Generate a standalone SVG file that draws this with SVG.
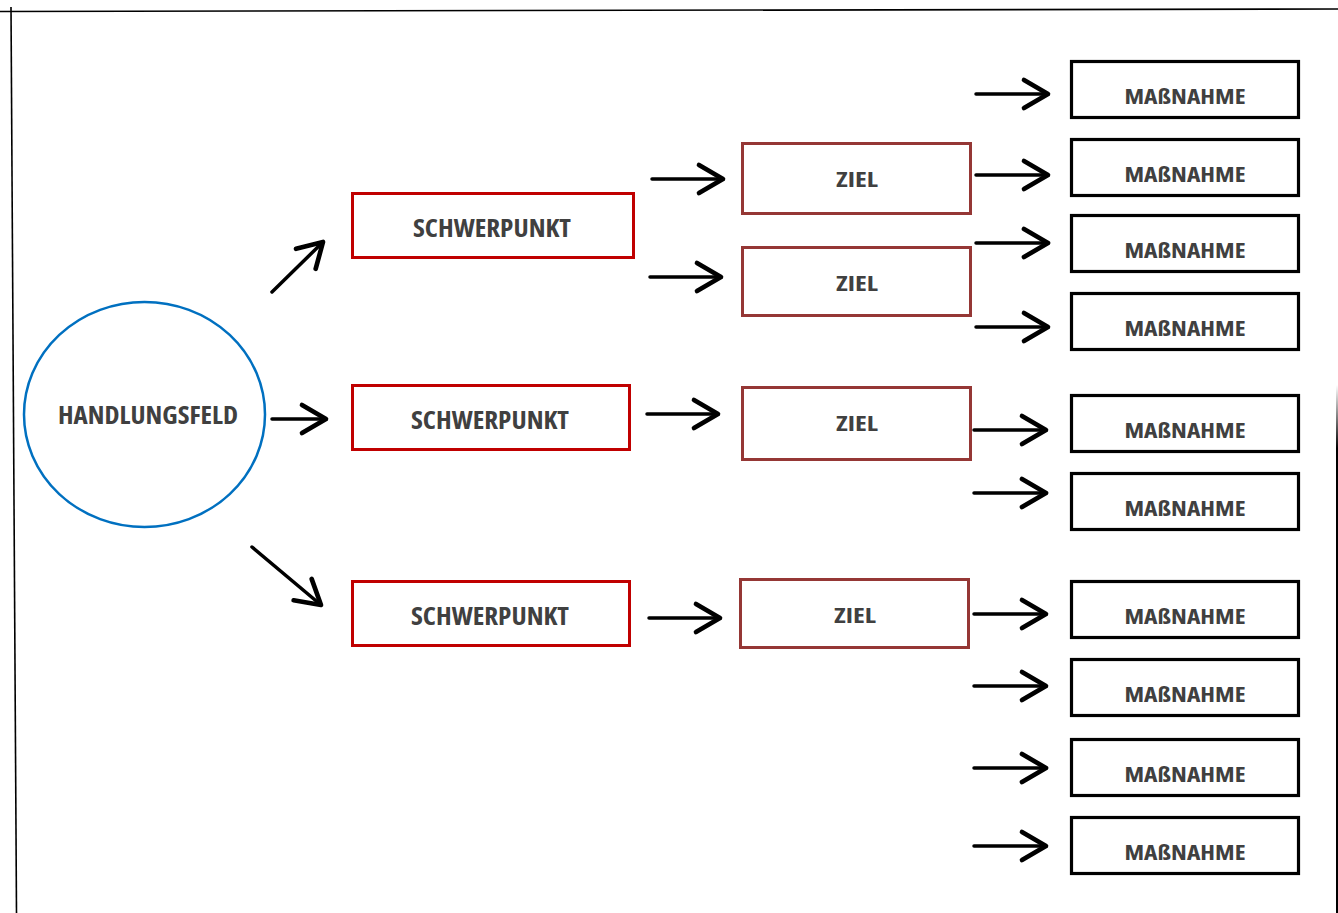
<svg xmlns="http://www.w3.org/2000/svg" width="1338" height="913" viewBox="0 0 1338 913">
<style>
.t{font-family:"Open Sans","Liberation Sans",sans-serif;font-weight:700;font-stretch:condensed;fill:#404040;text-anchor:middle}
.sp{fill:#fff;stroke:#c00000;stroke-width:3}
.zi{fill:#fff;stroke:#953735;stroke-width:3}
.ma{fill:#fff;stroke:#000;stroke-width:3.2}
.c{stroke:#000;stroke-width:3.5;fill:none;stroke-linecap:round;marker-end:url(#ah)}
.f{stroke:#000;stroke-width:1.6;fill:none}
</style>
<defs>
<marker id="ah" markerUnits="userSpaceOnUse" markerWidth="40" markerHeight="40" viewBox="-25 -15 30 30" refX="0" refY="0" orient="auto">
<path d="M-18,-10.5 L0,0 L-18,10.5" fill="none" stroke="#000" stroke-width="3.5" stroke-linecap="round" stroke-linejoin="round"/>
</marker>
<linearGradient id="rg" x1="0" y1="0" x2="0" y2="1">
<stop offset="0" stop-color="#fff"/>
<stop offset="0.12" stop-color="#000"/>
<stop offset="1" stop-color="#000"/>
</linearGradient>
</defs>
<rect width="1338" height="913" fill="#fff"/>
<g id="frame">
<line class="f" x1="0" y1="11.5" x2="1338" y2="9"/>
<line class="f" x1="11" y1="7" x2="16.5" y2="913"/>
<rect x="1336" y="385" width="2" height="528" fill="url(#rg)"/>
</g>
<g id="connectors">
<line class="c" x1="272" y1="292" x2="323" y2="242"/>
<line class="c" x1="272" y1="419" x2="326" y2="419"/>
<line class="c" x1="252" y1="547" x2="321" y2="605"/>
<line class="c" x1="652" y1="179" x2="723" y2="179"/>
<line class="c" x1="650" y1="277" x2="721" y2="277"/>
<line class="c" x1="647" y1="414" x2="718" y2="414"/>
<line class="c" x1="649" y1="618" x2="720" y2="618"/>
<line class="c" x1="976" y1="94" x2="1048" y2="94"/>
<line class="c" x1="976" y1="175" x2="1048" y2="175"/>
<line class="c" x1="976" y1="243" x2="1048" y2="243"/>
<line class="c" x1="976" y1="327" x2="1048" y2="327"/>
<line class="c" x1="974" y1="430" x2="1046" y2="430"/>
<line class="c" x1="974" y1="493" x2="1046" y2="493"/>
<line class="c" x1="974" y1="614" x2="1046" y2="614"/>
<line class="c" x1="974" y1="686" x2="1046" y2="686"/>
<line class="c" x1="974" y1="768" x2="1046" y2="768"/>
<line class="c" x1="974" y1="846" x2="1046" y2="846"/>
</g>
<g id="handlungsfeld">
<ellipse cx="144.5" cy="414.5" rx="120.5" ry="112.5" fill="#fff" stroke="#0070c0" stroke-width="2.5"/>
<text class="t" x="148" y="424" font-size="25" textLength="180" lengthAdjust="spacingAndGlyphs">HANDLUNGSFELD</text>
</g>
<g id="schwerpunkt1">
<rect class="sp" x="352.5" y="193.5" width="281" height="64"/>
<text class="t" x="492" y="237" font-size="25" textLength="158" lengthAdjust="spacingAndGlyphs">SCHWERPUNKT</text>
</g>
<g id="schwerpunkt2">
<rect class="sp" x="352.5" y="385.5" width="277" height="64"/>
<text class="t" x="490" y="429" font-size="25" textLength="158" lengthAdjust="spacingAndGlyphs">SCHWERPUNKT</text>
</g>
<g id="schwerpunkt3">
<rect class="sp" x="352.5" y="581.5" width="277" height="64"/>
<text class="t" x="490" y="625" font-size="25" textLength="158" lengthAdjust="spacingAndGlyphs">SCHWERPUNKT</text>
</g>
<g id="ziel1">
<rect class="zi" x="742.5" y="143.5" width="228" height="70"/>
<text class="t" x="857" y="187" font-size="22" textLength="42" lengthAdjust="spacingAndGlyphs">ZIEL</text>
</g>
<g id="ziel2">
<rect class="zi" x="742.5" y="247.5" width="228" height="68"/>
<text class="t" x="857" y="291" font-size="22" textLength="42" lengthAdjust="spacingAndGlyphs">ZIEL</text>
</g>
<g id="ziel3">
<rect class="zi" x="742.5" y="387.5" width="228" height="72"/>
<text class="t" x="857" y="431" font-size="22" textLength="42" lengthAdjust="spacingAndGlyphs">ZIEL</text>
</g>
<g id="ziel4">
<rect class="zi" x="740.5" y="579.5" width="228" height="68"/>
<text class="t" x="855" y="623" font-size="22" textLength="42" lengthAdjust="spacingAndGlyphs">ZIEL</text>
</g>
<g id="massnahme1"><rect class="ma" x="1071.5" y="61.5" width="227" height="56"/><text class="t" x="1185" y="104" font-size="21" textLength="121" lengthAdjust="spacingAndGlyphs">MAßNAHME</text></g>
<g id="massnahme2"><rect class="ma" x="1071.5" y="139.5" width="227" height="56"/><text class="t" x="1185" y="182" font-size="21" textLength="121" lengthAdjust="spacingAndGlyphs">MAßNAHME</text></g>
<g id="massnahme3"><rect class="ma" x="1071.5" y="215.5" width="227" height="56"/><text class="t" x="1185" y="258" font-size="21" textLength="121" lengthAdjust="spacingAndGlyphs">MAßNAHME</text></g>
<g id="massnahme4"><rect class="ma" x="1071.5" y="293.5" width="227" height="56"/><text class="t" x="1185" y="336" font-size="21" textLength="121" lengthAdjust="spacingAndGlyphs">MAßNAHME</text></g>
<g id="massnahme5"><rect class="ma" x="1071.5" y="395.5" width="227" height="56"/><text class="t" x="1185" y="438" font-size="21" textLength="121" lengthAdjust="spacingAndGlyphs">MAßNAHME</text></g>
<g id="massnahme6"><rect class="ma" x="1071.5" y="473.5" width="227" height="56"/><text class="t" x="1185" y="516" font-size="21" textLength="121" lengthAdjust="spacingAndGlyphs">MAßNAHME</text></g>
<g id="massnahme7"><rect class="ma" x="1071.5" y="581.5" width="227" height="56"/><text class="t" x="1185" y="624" font-size="21" textLength="121" lengthAdjust="spacingAndGlyphs">MAßNAHME</text></g>
<g id="massnahme8"><rect class="ma" x="1071.5" y="659.5" width="227" height="56"/><text class="t" x="1185" y="702" font-size="21" textLength="121" lengthAdjust="spacingAndGlyphs">MAßNAHME</text></g>
<g id="massnahme9"><rect class="ma" x="1071.5" y="739.5" width="227" height="56"/><text class="t" x="1185" y="782" font-size="21" textLength="121" lengthAdjust="spacingAndGlyphs">MAßNAHME</text></g>
<g id="massnahme10"><rect class="ma" x="1071.5" y="817.5" width="227" height="56"/><text class="t" x="1185" y="860" font-size="21" textLength="121" lengthAdjust="spacingAndGlyphs">MAßNAHME</text></g>
</svg>
